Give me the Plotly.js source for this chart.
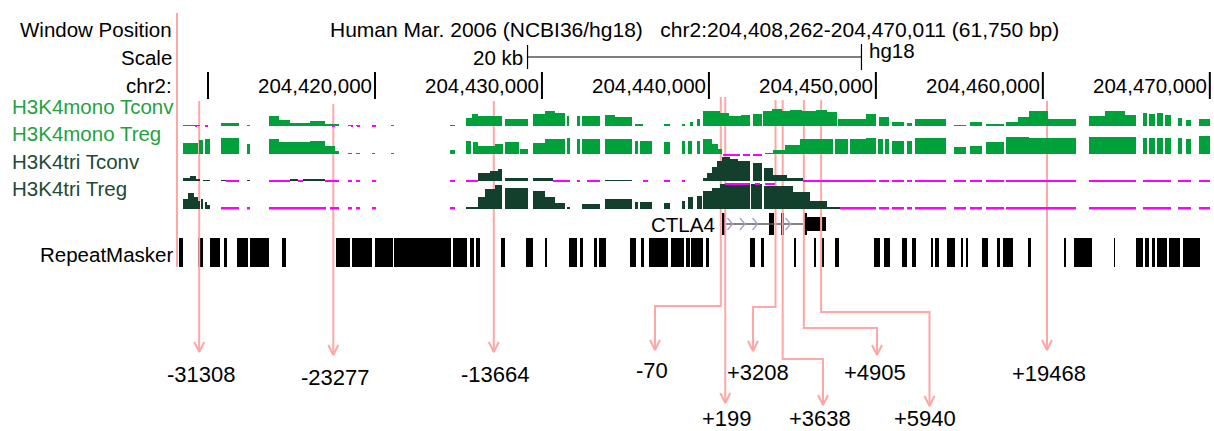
<!DOCTYPE html>
<html><head><meta charset="utf-8">
<script src="https://cdn.plot.ly/plotly-3.0.1.min.js"></script>
<style>html,body{margin:0;padding:0;background:#fff}#chart{width:1214px;height:431px}</style>
</head><body><div id="chart"></div>
<script>
// ================= DATA =================
const assembly = 'Human Mar. 2006 (NCBI36/hg18)';
const chrom = 'chr2';
const db = 'hg18';
const windowStartBp = 204408262;
const windowEndBp = 204470011;
const rulerTicksKb = [204410, 204420, 204430, 204440, 204450, 204460, 204470];
const rulerTickLabeled = [false, true, true, true, true, true, true];
const scaleBarKb = 20;
const KB0 = 204400; // all positions below are kb after chr2:204,400,000

const trackNames = ['H3K4mono Tconv', 'H3K4mono Treg', 'H3K4tri Tconv', 'H3K4tri Treg'];

// [start kb, end kb, signal]
const monoTconv = [[8.50,9.52,1],[10.77,11.85,3],[12.33,12.51,1],[13.65,14.25,10],[14.25,14.91,6],[14.91,16.10,3],[16.10,17.00,5],[17.00,17.84,2],[18.38,18.62,1],[18.86,19.10,1],[20.95,21.13,1],[24.49,24.79,1],[25.45,25.80,8],[25.80,26.16,12],[26.16,27.60,10],[27.78,29.16,7],[29.46,30.18,12],[30.18,30.77,15],[30.77,31.37,13],[31.49,31.61,10],[32.09,32.27,10],[32.39,33.47,10],[33.77,34.37,11],[34.37,35.39,9],[35.57,36.04,2],[37.30,37.66,2],[38.38,38.56,2],[38.86,39.04,4],[39.28,39.46,7],[39.64,40.66,15],[40.66,41.20,13],[41.20,41.90,10],[41.90,42.45,11],[42.63,43.17,12],[43.23,43.80,15],[43.80,44.40,17],[44.40,44.85,15],[44.85,45.60,16],[45.60,46.40,15],[46.40,47.10,16],[47.10,47.66,14],[47.72,49.40,7],[49.40,50.00,12],[50.18,50.77,9],[50.95,51.67,4],[51.85,52.15,3],[52.33,54.19,7],[54.67,55.39,1],[55.63,56.34,4],[56.58,57.66,2],[57.78,58.50,4],[58.50,59.16,9],[59.16,60.30,15],[60.30,61.97,7],[62.75,63.71,10],[63.71,64.91,15],[64.91,65.57,11],[65.98,66.22,13],[66.34,66.70,12],[66.82,67.18,13],[67.30,67.66,11],[68.08,68.32,8],[68.56,68.86,6],[69.34,70.01,7]];
const monoTreg = [[8.50,9.40,11],[9.46,9.70,14],[9.82,10.12,15],[10.77,11.85,16],[12.33,12.51,10],[13.65,14.25,15],[14.25,16.10,12],[16.10,17.00,13],[17.00,17.60,8],[17.60,17.84,3],[18.38,18.62,1],[18.86,19.10,1],[19.82,20.00,1],[20.95,21.13,1],[24.49,24.79,4],[25.45,25.75,13],[25.86,26.16,12],[26.16,27.18,8],[27.18,27.66,10],[27.78,28.62,12],[28.68,29.16,5],[29.46,30.18,11],[30.18,31.37,15],[31.49,31.67,16],[32.09,32.27,15],[32.39,33.47,15],[33.77,35.39,15],[35.57,35.74,13],[35.86,36.58,13],[37.30,37.66,12],[38.38,38.56,13],[38.74,38.98,13],[39.28,39.46,13],[39.64,40.18,15],[40.18,40.54,10],[40.54,40.78,5],[43.35,43.83,1],[43.83,44.55,4],[44.55,45.45,9],[45.45,47.42,15],[47.54,48.32,15],[48.44,49.40,15],[49.40,50.00,16],[50.12,50.42,15],[50.54,50.77,15],[50.95,51.67,13],[51.85,52.15,13],[52.33,54.19,16],[54.67,55.39,7],[55.63,56.34,8],[56.58,57.66,12],[57.78,59.16,17],[59.16,61.97,16],[62.75,65.57,17],[65.98,66.22,16],[66.34,66.70,16],[66.82,67.18,16],[67.30,67.66,16],[68.08,68.32,16],[68.56,68.86,15],[69.34,70.01,18]];
const triTconv = [[8.50,8.92,3],[8.92,9.28,5],[9.28,9.52,2],[9.70,10.12,1],[10.77,11.07,1],[12.33,12.51,1],[14.91,15.39,2],[15.69,17.00,2],[26.16,26.88,8],[26.88,27.36,10],[27.36,27.60,12],[27.78,29.16,3],[29.46,30.66,3],[33.77,35.39,1],[39.64,39.90,3],[39.90,40.20,8],[40.20,40.48,14],[40.48,40.80,20],[40.80,41.25,24],[41.25,41.73,22],[41.73,42.45,20],[42.63,43.17,18],[43.29,43.83,13],[43.83,44.67,6],[44.67,45.63,3]];
const triTreg = [[8.50,8.80,10],[8.80,9.16,16],[9.16,9.40,12],[9.40,9.52,8],[9.58,9.70,10],[9.82,9.94,7],[9.94,10.12,4],[25.45,26.16,2],[26.16,26.58,12],[26.58,27.18,20],[27.18,27.60,24],[27.78,29.16,21],[29.46,30.18,18],[30.18,30.77,12],[30.77,31.37,6],[31.49,31.67,2],[32.39,33.47,5],[33.77,35.39,10],[35.57,35.74,7],[35.86,36.58,7],[37.30,37.66,6],[38.38,38.56,8],[38.74,39.04,12],[39.28,39.58,13],[39.64,40.18,18],[40.18,40.66,21],[40.66,42.45,25],[42.55,43.17,25],[43.29,45.03,23],[45.03,46.04,17],[46.04,47.06,8],[47.06,47.84,2]];

// values clipped below / above the viewing range: [start kb, end kb]
const monoTconvLow = [[9.22,9.34],[9.82,10.00],[17.42,17.60],[18.56,18.68],[18.92,19.10],[19.82,20.06]];
const monoTregLow = [];
const triTconvLow = [[11.07,11.85],[13.65,14.91],[15.39,15.69],[17.00,17.84],[18.38,18.62],[18.86,19.10],[19.82,20.06],[24.49,24.79],[25.45,26.16],[30.66,31.67],[32.09,32.27],[32.69,33.47],[36.04,36.34],[37.30,37.66],[38.38,38.56],[45.63,50.00],[50.18,50.77],[50.95,51.67],[51.85,52.15],[52.33,54.19],[54.67,55.39],[55.63,56.34],[56.58,57.66],[57.78,61.97],[62.75,65.57],[65.98,67.66],[68.08,68.86],[69.34,70.01]];
const triTregLow = [[10.77,11.85],[12.33,12.51],[13.65,17.06],[17.30,17.84],[18.38,18.62],[18.86,19.10],[19.82,20.06],[24.49,24.79],[47.84,50.00],[50.18,50.77],[50.95,51.67],[51.85,52.15],[52.33,54.19],[54.67,55.39],[55.63,56.34],[56.58,57.66],[57.78,61.97],[62.75,65.57],[65.98,67.66],[68.08,68.86],[69.34,70.01]];
const triTconvHigh = [[40.83,41.85],[42.03,42.45],[42.63,43.17]];
const triTregHigh = [[40.95,42.45],[42.75,43.05],[43.35,43.95]];

// RepeatMasker elements [start kb, end kb]
const repeats = [[8.26,8.50],[9.40,9.70],[10.12,10.72],[10.95,11.13],[11.73,12.39],[12.51,13.65],[14.43,14.67],[17.66,18.50],[18.62,19.82],[20.00,21.07],[21.13,24.55],[24.67,25.51],[25.69,25.92],[26.04,26.28],[27.54,27.78],[29.04,29.46],[30.18,30.30],[31.61,32.09],[32.27,32.45],[33.11,33.29],[33.41,33.83],[35.27,35.63],[35.92,36.10],[36.40,37.54],[37.72,38.50],[38.62,38.86],[38.92,39.64],[39.82,40.00],[42.45,42.75],[43.11,43.29],[45.09,45.21],[46.28,46.40],[46.76,46.88],[47.54,47.78],[49.88,50.24],[50.48,50.83],[51.55,51.85],[52.15,52.39],[53.29,53.41],[53.53,53.77],[54.25,54.73],[55.09,55.21],[55.39,55.51],[56.34,56.70],[57.24,57.42],[57.60,58.20],[59.10,59.28],[61.25,61.37],[61.85,62.93],[64.25,64.33],[65.57,65.98],[66.10,66.34],[66.52,66.70],[66.82,67.42],[67.54,68.20],[68.38,69.40]];

// CTLA4 gene model (+ strand)
const geneName = 'CTLA4';
const exonStarts = [40.78, 43.59, 44.31, 45.69];
const exonEnds = [41.01, 43.89, 44.49, 47.00];
const thickStart = 40.78, thickEnd = 45.87;

// probe positions relative to the CTLA4 TSS (bp)
const probeOffsets = [-31308, -23277, -13664, -70, 199, 3208, 3638, 4905, 5940, 19468];

// ================= LAYOUT (pixels) =================
const W = 1214, H = 431;
const dataLeftPx = 179, dataRightPx = 1210;
const trackBaselinePx = [126, 153.5, 181, 208.5];
const trackTopVal = 27.5, trackBottomVal = -1;
const highClipBase = [null, null, 25.5, 23.5];
const probeRoute = {
  '-31308': {top:101, tip:352, ly:374},
  '-23277': {top:104, tip:355, ly:377},
  '-13664': {top:101, tip:352, ly:374},
  '-70':    {top:97, elbow:306, lx:655, tip:350, ly:370, tx:652},
  '199':    {top:97, tip:403, ly:418},
  '3208':   {top:100, elbow:307, lx:753, tip:351, ly:372, tx:758},
  '3638':   {top:100, elbow:359, lx:823, tip:405, ly:418, tx:820},
  '4905':   {top:100, elbow:328, lx:877, tip:355, ly:372, tx:875},
  '5940':   {top:100, elbow:312, lx:929.5, tip:406, ly:418, tx:925},
  '19468':  {top:101, tip:350, ly:373}
};

const FONT = 'Liberation Sans, Arial, Helvetica, sans-serif';
const monoColor = '#00a03a', triColor = '#133f2d';
const monoLabel = '#1fa23f', triLabel = '#1d4a36';
const magenta = '#ff00ff', pink = '#ffa6a6';

// ================= BUILD =================
const kbPerPx = (windowEndBp - windowStartBp) / 1000 / (dataRightPx - dataLeftPx);
const xr0 = windowStartBp / 1000 - dataLeftPx * kbPerPx;
const xr1 = xr0 + W * kbPerPx;
const pxX = px => xr0 + px * kbPerPx;
const fmt = n => n.toLocaleString('en-US');

const traces = [];
const annotations = [];
const layout = {
  width: W, height: H, margin: {l:0, r:0, t:0, b:0}, paper_bgcolor:'#fff', plot_bgcolor:'rgba(0,0,0,0)',
  showlegend:false, barmode:'overlay', bargap:0,
  xaxis: {range:[xr0, xr1], domain:[0,1], visible:false, fixedrange:true, anchor:'y'},
  yaxis: {range:[H, 0], domain:[0,1], visible:false, fixedrange:true, anchor:'x'},
  annotations, font:{family:FONT}
};

function barSeg(segs, axis, color, baseVal, hVal) {
  return {type:'bar', xaxis:'x', yaxis:axis,
    x: segs.map(s => KB0 + (s[0] + s[1]) / 2),
    width: segs.map(s => s[1] - s[0]),
    y: segs.map(s => hVal === undefined ? s[2] : hVal),
    base: baseVal,
    marker:{color:color, line:{width:0}}, hoverinfo:'skip', showlegend:false};
}

const trackData = [monoTconv, monoTreg, triTconv, triTreg];
const trackLow = [monoTconvLow, monoTregLow, triTconvLow, triTregLow];
const trackHigh = [[], [], triTconvHigh, triTregHigh];
const trackColors = [monoColor, monoColor, triColor, triColor];
const labelColors = [monoLabel, monoLabel, triLabel, triLabel];

trackNames.forEach((name, i) => {
  const ax = 'y' + (i + 2);
  const b = trackBaselinePx[i];
  layout['yaxis' + (i + 2)] = {
    domain:[(H - b + trackBottomVal) / H, (H - b + trackTopVal) / H],
    range:[trackBottomVal, trackTopVal], visible:false, fixedrange:true, anchor:'x'
  };
  traces.push(barSeg(trackData[i], ax, trackColors[i], 0));
  if (trackLow[i].length) traces.push(barSeg(trackLow[i], ax, magenta, -1, 2.4));
  if (trackHigh[i].length) traces.push(barSeg(trackHigh[i], ax, magenta, highClipBase[i], 2));
  annotations.push({xref:'x', yref:'y', x:pxX(10), y:b - 20, xanchor:'left', yanchor:'middle',
    text:name, showarrow:false, font:{family:FONT, size:20.5, color:labelColors[i]}});
});

// RepeatMasker
traces.push(barSeg(repeats, 'y', '#000', 238, 29));
annotations.push({xref:'x', yref:'y', x:pxX(175), y:254, xanchor:'right', yanchor:'middle',
  text:'RepeatMasker', showarrow:false, font:{family:FONT, size:20.5, color:'#000'}});

// Gene model
const lastEx = exonStarts.length - 1;
traces.push({type:'scatter', mode:'lines', x:[KB0 + exonEnds[0], KB0 + exonStarts[lastEx]], y:[224, 224],
  line:{color:'#5c5c5c', width:1.6}, hoverinfo:'skip', showlegend:false});
const chevX = [], chevY = [];
const chevD = 5 * kbPerPx;
for (let k = 0; k < lastEx; k++) {
  const a = exonEnds[k], e = exonStarts[k + 1];
  for (let p = a + 0.4; p < e - 0.2; p += 0.75) {
    chevX.push(KB0 + p - chevD, KB0 + p, KB0 + p - chevD, null);
    chevY.push(218, 224, 230, null);
  }
}
traces.push({type:'scatter', mode:'lines', x:chevX, y:chevY, line:{color:'#9e9ed8', width:1.3},
  hoverinfo:'skip', showlegend:false});
const thick = [], thin = [];
exonStarts.forEach((s, k) => {
  const e = exonEnds[k];
  const ts = Math.max(s, thickStart), te = Math.min(e, thickEnd);
  if (te > ts) thick.push([ts, te]);
  if (s < thickStart) thin.push([s, Math.min(e, thickStart)]);
  if (e > thickEnd) thin.push([Math.max(s, thickEnd), e]);
});
traces.push(barSeg(thick, 'y', '#000', 213, 22));
traces.push(barSeg(thin, 'y', '#000', 217, 14));
annotations.push({xref:'x', yref:'y', x:KB0 + exonStarts[0], xshift:-5, y:224, xanchor:'right', yanchor:'middle',
  text:geneName, showarrow:false, font:{family:FONT, size:20.5, color:'#000'}});

// Header
const winCenter = (windowStartBp + windowEndBp) / 2000;
annotations.push({xref:'x', yref:'y', x:winCenter, y:29, xanchor:'center', yanchor:'middle', showarrow:false,
  text: assembly + '\u00a0\u00a0\u00a0' + chrom + ':' + fmt(windowStartBp) + '-' + fmt(windowEndBp) + ' (' + fmt(windowEndBp - windowStartBp + 1) + ' bp)',
  font:{family:FONT, size:21, color:'#000'}});
[['Window Position', 29], ['Scale', 57], [chrom + ':', 85]].forEach(([t, y]) => {
  annotations.push({xref:'x', yref:'y', x:pxX(174), y:y, xanchor:'right', yanchor:'middle', text:t,
    showarrow:false, font:{family:FONT, size:20.5, color:'#000'}});
});

// Scale bar
const sb0 = winCenter - scaleBarKb / 2, sb1 = winCenter + scaleBarKb / 2;
traces.push({type:'scatter', mode:'lines', x:[sb0, sb1, null, sb0, sb0, null, sb1, sb1],
  y:[57, 57, null, 45, 69, null, 44, 70], line:{color:'#000', width:1.2}, hoverinfo:'skip', showlegend:false});
annotations.push({xref:'x', yref:'y', x:sb0, xshift:-3, y:57, xanchor:'right', yanchor:'middle',
  text: scaleBarKb + ' kb', showarrow:false, font:{family:FONT, size:20.5, color:'#000'}});
annotations.push({xref:'x', yref:'y', x:sb1, xshift:6, y:50, xanchor:'left', yanchor:'middle',
  text: db, showarrow:false, font:{family:FONT, size:20.5, color:'#000'}});

// Ruler
const rtx = [], rty = [];
rulerTicksKb.forEach((t, k) => {
  rtx.push(t, t, null); rty.push(72, 99, null);
  if (rulerTickLabeled[k]) annotations.push({xref:'x', yref:'y', x:t, xshift:-1, y:85, xanchor:'right', yanchor:'middle',
    text: fmt(t * 1000), showarrow:false, font:{family:FONT, size:20.5, color:'#000'}});
});
traces.push({type:'scatter', mode:'lines', x:rtx, y:rty, line:{color:'#000', width:2}, hoverinfo:'skip', showlegend:false});

// Pink probe arrows
const px_ = [], py_ = [];
px_.push(pxX(177), pxX(177), null); py_.push(13, 267, null);
const headHalf = 5 * kbPerPx;
probeOffsets.forEach(off => {
  const r = probeRoute[String(off)];
  const xpos = KB0 + exonStarts[0] + off / 1000;
  let tipX;
  if (r.elbow !== undefined) {
    tipX = pxX(r.lx);
    px_.push(xpos, xpos, tipX, tipX, null); py_.push(r.top, r.elbow, r.elbow, r.tip, null);
  } else {
    tipX = xpos;
    px_.push(xpos, xpos, null); py_.push(r.top, r.tip, null);
  }
  px_.push(tipX - headHalf, tipX, tipX + headHalf, null); py_.push(r.tip - 10, r.tip, r.tip - 10, null);
  const lab = (off > 0 ? '+' : '') + off;
  annotations.push({xref:'x', yref:'y', x: r.tx !== undefined ? pxX(r.tx) : xpos, xshift: r.tx !== undefined ? 0 : 2,
    y:r.ly, xanchor:'center', yanchor:'middle', text:lab, showarrow:false, font:{family:FONT, size:22, color:'#000'}});
});
traces.push({type:'scatter', mode:'lines', x:px_, y:py_, line:{color:pink, width:2}, hoverinfo:'skip', showlegend:false});

Plotly.newPlot('chart', traces, layout, {staticPlot:true, displayModeBar:false});
</script>
</body></html>
